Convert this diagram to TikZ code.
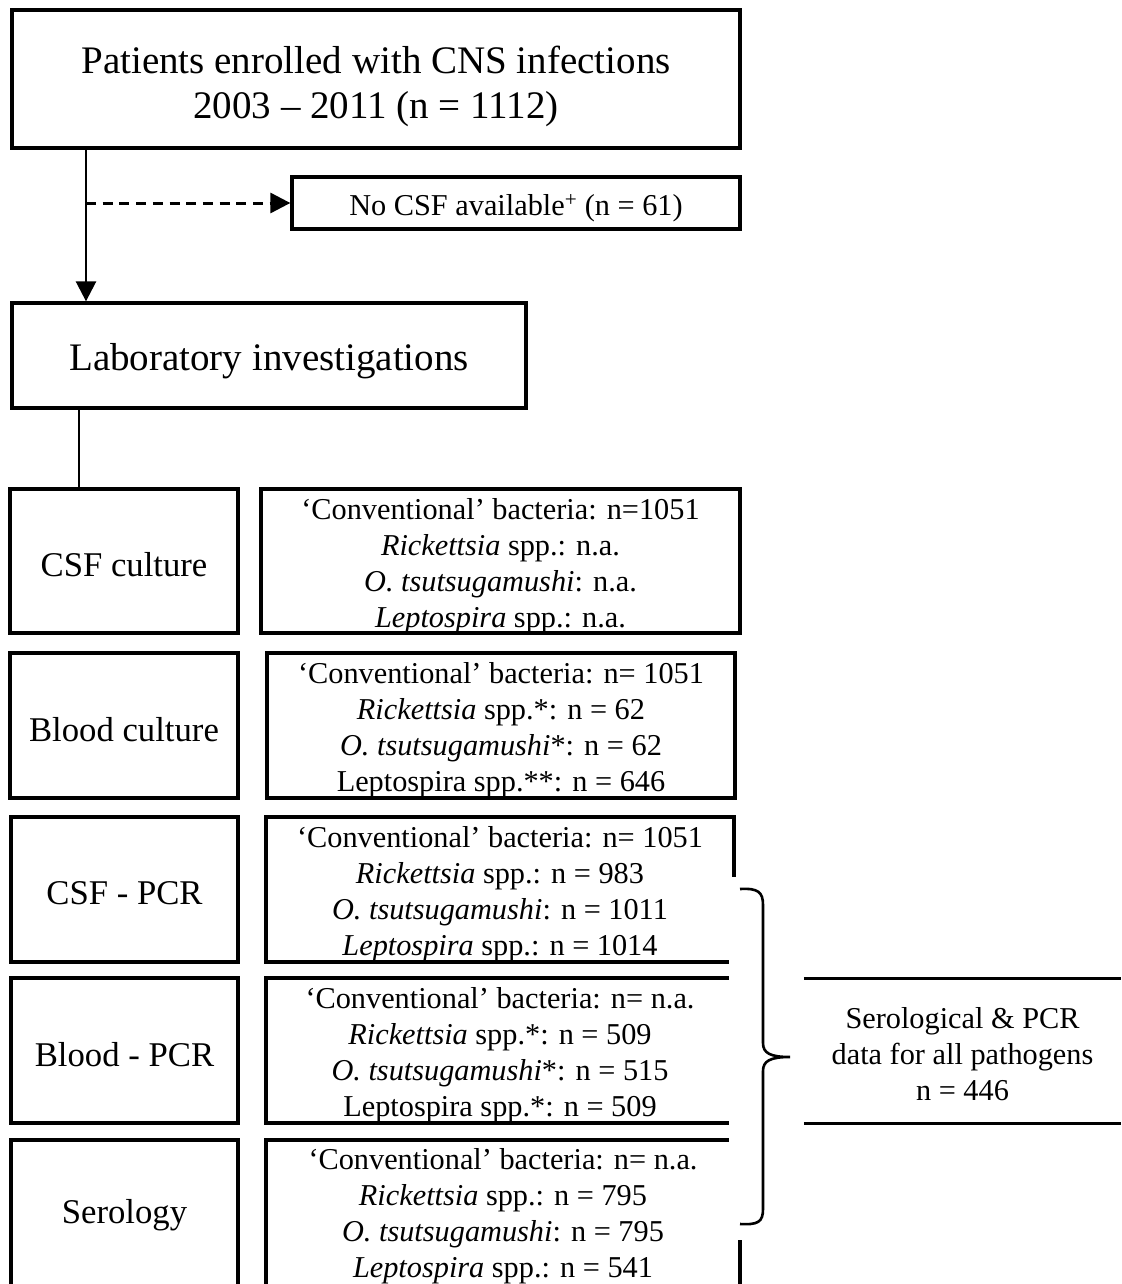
\documentclass[tikz,border=0pt]{standalone}
\usepackage{fontspec}
\setmainfont{Liberation Serif}
\usetikzlibrary{arrows.meta}
\begin{document}
\begin{tikzpicture}[x=1pt,y=-1pt,
  box/.style={draw, line width=3.3pt, inner sep=0pt, anchor=center},
  txt/.style={inner sep=0pt, align=center, anchor=center},
  big/.style={font=\fontsize{39}{45}\selectfont},
  mid/.style={font=\fontsize{34.7}{40}\selectfont},
  small/.style={font=\fontsize{30.3}{36}\selectfont},
  conn/.style={line width=2.6pt},
  tipd/.style={-{Triangle[length=20pt,width=20pt]}},
  rule/.style={line width=3.3pt}
]
\useasboundingbox (0,0) rectangle (1121,1284);
\clip (0,0) rectangle (1121,1284);
\fill[white] (0,0) rectangle (1121,1284);

% main flow
\node[box,minimum width=728pt,minimum height=138pt] (top) at (376,79) {};
\node[txt,big] (toptxt) at ([yshift=-7pt]top.center)
  {Patients enrolled with CNS infections\\2003 – 2011 (n = 1112)};
\node[box,minimum width=448pt,minimum height=52pt] (nocsf) at (516,203) {};
\node[txt,small] (nocsftxt) at ([yshift=-5pt]nocsf.center)
  {No CSF available\textsuperscript{+} (n = 61)};
\node[box,minimum width=514pt,minimum height=105pt] (lab) at (269,355.5) {};
\node[txt,big] (labtxt) at ([yshift=-6pt]lab.center) {Laboratory investigations};

\coordinate (ax) at (86,0);
\coordinate (lx) at (79,0);
\draw[conn,tipd] (top.south -| ax) -- (lab.north -| ax);
\draw[line width=3pt,tipd,dash pattern=on 10pt off 6.7pt] (nocsf.west -| ax) -- (nocsf.west);

% left column
\node[box,minimum width=228pt,minimum height=144pt] (csfc) at (124,561) {};
\node[box,minimum width=228pt,minimum height=145pt] (bc) at (124,725.5) {};
\node[box,minimum width=227pt,minimum height=145pt] (csfp) at (124.5,889.5) {};
\node[box,minimum width=227pt,minimum height=145pt] (bp) at (124.5,1050.5) {};
\node[box,minimum width=227pt,minimum height=147pt] (ser) at (124.5,1213.5) {};
\node[txt,mid] (csfctxt) at ([yshift=-4pt]csfc.center) {CSF culture};
\node[txt,mid] (bctxt) at ([yshift=-4pt]bc.center) {Blood culture};
\node[txt,mid] (csfptxt) at ([yshift=-4pt]csfp.center) {CSF - PCR};
\node[txt,mid] (bptxt) at ([yshift=-4pt]bp.center) {Blood - PCR};
\node[txt,mid] (sertxt) at ([yshift=-2pt]ser.center) {Serology};

\draw[conn] (lab.south -| lx) -- (csfc.north -| lx);

% detail column
\node[box,minimum width=479pt,minimum height=144pt] (d1) at (500.5,561) {};
\node[box,minimum width=468pt,minimum height=145pt] (d2) at (501,725.5) {};
\node[box,minimum width=468pt,minimum height=145pt] (d3) at (500,889.5) {};
\node[box,minimum width=468pt,minimum height=145pt] (d4) at (500,1050.5) {};
\node[box,minimum width=474pt,minimum height=147pt] (d5) at (503,1213.5) {};

\node[txt,small] (d1txt) at ([yshift=-5pt]d1.center)
  {‘Conventional’ bacteria: n=1051\\\textit{Rickettsia} spp.: n.a.\\\textit{O. tsutsugamushi}: n.a.\\\textit{Leptospira} spp.: n.a.};
\node[txt,small] (d2txt) at ([yshift=-5pt]d2.center)
  {‘Conventional’ bacteria: n= 1051\\\textit{Rickettsia} spp.*: n = 62\\\textit{O. tsutsugamushi}*: n = 62\\Leptospira spp.**: n = 646};
\node[txt,small] (d3txt) at ([yshift=-5pt]d3.center)
  {‘Conventional’ bacteria: n= 1051\\\textit{Rickettsia} spp.: n = 983\\\textit{O. tsutsugamushi}: n = 1011\\\textit{Leptospira} spp.: n = 1014};
\node[txt,small] (d4txt) at ([yshift=-5pt]d4.center)
  {‘Conventional’ bacteria: n= n.a.\\\textit{Rickettsia} spp.*: n = 509\\\textit{O. tsutsugamushi}*: n = 515\\Leptospira spp.*: n = 509};
\node[txt,small] (d5txt) at ([yshift=-3pt]d5.center)
  {‘Conventional’ bacteria: n= n.a.\\\textit{Rickettsia} spp.: n = 795\\\textit{O. tsutsugamushi}: n = 795\\\textit{Leptospira} spp.: n = 541};

% white background of the brace
\fill[white] (729,877) rectangle (800,1240);

% brace
\draw[line width=2.6pt]
  (740,889) .. controls (758,888) and (763,892) .. (763,905)
  -- (763,1043) .. controls (763,1053) and (770,1057) .. (790,1057)
  .. controls (770,1057) and (763,1061) .. (763,1071)
  -- (763,1209) .. controls (763,1222) and (758,1225) .. (740,1224);

% summary box (top and bottom rules only)
\node[txt,minimum width=317pt,minimum height=144pt] (sero) at (962.5,1051) {};
\node[txt,small] (serotxt) at ([yshift=-3pt]sero.center)
  {Serological \& PCR\\data for all pathogens\\n = 446};
\draw[rule] (sero.north west) -- (sero.north east);
\draw[rule] (sero.south west) -- (sero.south east);
\end{tikzpicture}
\end{document}
